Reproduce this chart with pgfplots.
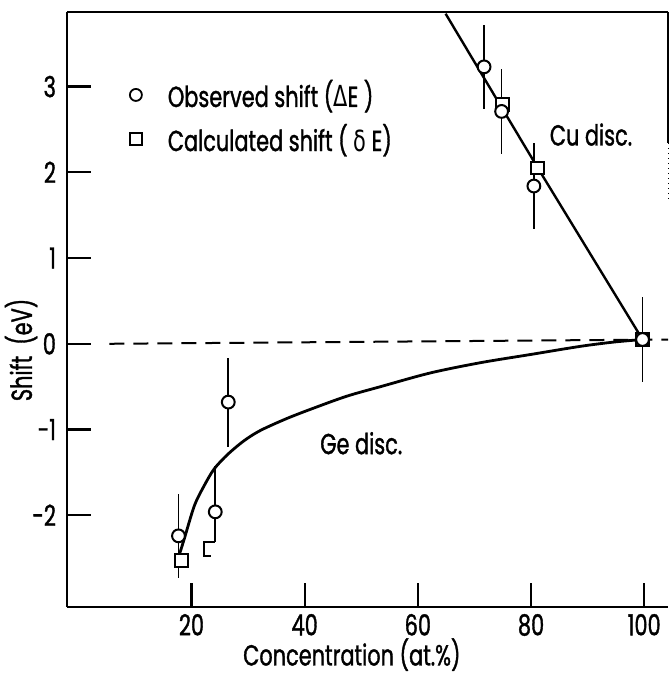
\documentclass[border=0pt]{standalone}
\usepackage{fontspec}
\setmainfont{Poppins}[FakeStretch=0.72, FakeBold=1.2]
\newfontfamily\greek{DejaVu Sans}[FakeStretch=0.72]
\usepackage{pgfplots}
\pgfplotsset{compat=1.18}

\newcommand{\lab}{\fontsize{14.5}{17}\selectfont}

\begin{document}
\begin{tikzpicture}
% page size: the axis box sits with its south west corner at the origin
\useasboundingbox (-33.5pt,-33.5pt) rectangle (301pt,303.5pt);
\begin{axis}[
    scale only axis,
    width=300.5pt, height=297.5pt,
    xmin=-2, xmax=104.2,
    ymin=-3.07, ymax=3.87,
    axis x line=box, axis y line=left,
    y axis line style={-},
    axis line style={line width=1.1pt},
    tick align=inside, tick pos=left,
    major tick length=12pt,
    tick style={line width=1.1pt, black},
    xtick={20,40,60,80,100},
    ytick={-2,-1,0,1,2,3},
    /pgf/number format/assume math mode=true,
    tick label style={font=\lab},
    yticklabel style={xshift=-2pt},
    label style={font=\lab},
    xlabel={Concentration (at.\%)},
    ylabel={Shift\ \ (eV)},
    xlabel style={at={(axis description cs:0.474,-0.08)}, anchor=center, inner sep=0pt},
    ylabel style={at={(axis description cs:-0.0765,0.432)}, anchor=center, inner sep=0pt},
    clip=false,
    legend style={draw=none, fill=none, at={(axis description cs:0.094,0.9)},
        anchor=north west, row sep=3pt, column sep=11pt, font=\lab},
    legend cell align=left,
]
% right border, only partly visible
\draw[line width=1.1pt] (rel axis cs:1,1) -- (rel axis cs:1,0.78);
\draw[line width=0.5pt, dotted] (rel axis cs:1,0.78) -- (rel axis cs:1,0.68);

% Cu line
\addplot[forget plot, black, line width=1.2pt] coordinates {
    (64.9,3.85) (81.2,2.05) (99.7,0.05)
};
% Ge curve
\addplot[forget plot, black, line width=1.4pt, smooth] coordinates {
    (17.8,-2.47) (18.7,-2.28) (20.5,-1.89) (22.2,-1.66) (24.0,-1.46)
    (26.4,-1.29) (29.3,-1.13) (32.2,-1.01) (36.9,-0.87) (41.6,-0.75)
    (47.5,-0.61) (53.4,-0.50) (62.2,-0.34) (71.1,-0.22) (79.9,-0.125)
    (88.7,-0.03) (94.6,0.02) (99.7,0.05)
};
% zero line
\addplot[forget plot, black, line width=1pt, dash pattern=on 7.5pt off 4.5pt] coordinates {
    (5.5,0) (104.2,0.05)
};
% partly drawn calculated point near 23 at.%
\addplot[forget plot, black, line width=1pt] coordinates {
    (24.1,-2.31) (22.2,-2.31) (22.2,-2.47) (23.4,-2.47)
};

% calculated shift
\addplot[forget plot, only marks, mark=square*, mark size=3.2pt,
    mark options={fill=white, draw=black, line width=1pt}] coordinates {
    (18.2,-2.53) (75.0,2.79) (81.2,2.05) (99.7,0.05)
};
% observed shift
\addplot[forget plot, only marks, mark=*, mark size=3.2pt,
    mark options={fill=white, draw=black, line width=1pt},
    error bars/.cd, y dir=both, y explicit,
    error bar style={line width=0.8pt, black}, error mark=none] coordinates {
    (17.7,-2.24) +- (0,0.49)
    (24.2,-1.96) += (0,0.53) -= (0,0.35)
    (26.5,-0.68) +- (0,0.52)
    (71.7,3.23) +- (0,0.49)
    (74.8,2.71) +- (0,0.5)
    (80.5,1.84) +- (0,0.5)
    (99.7,0.05) +- (0,0.49)
};

\addlegendimage{only marks, mark=o, mark size=3pt, line width=0.9pt, black}
\addlegendentry{Observed shift ({\greek Δ}E )}
\addlegendimage{only marks, mark=square, mark size=3pt, line width=0.9pt, black}
\addlegendentry{Calculated shift ( {\greek δ} E)}

\node[font=\lab] at (axis cs:90.6,2.44) {Cu disc.};
\node[font=\lab] at (axis cs:50,-1.16) {Ge disc.};
\end{axis}
\end{tikzpicture}
\end{document}
